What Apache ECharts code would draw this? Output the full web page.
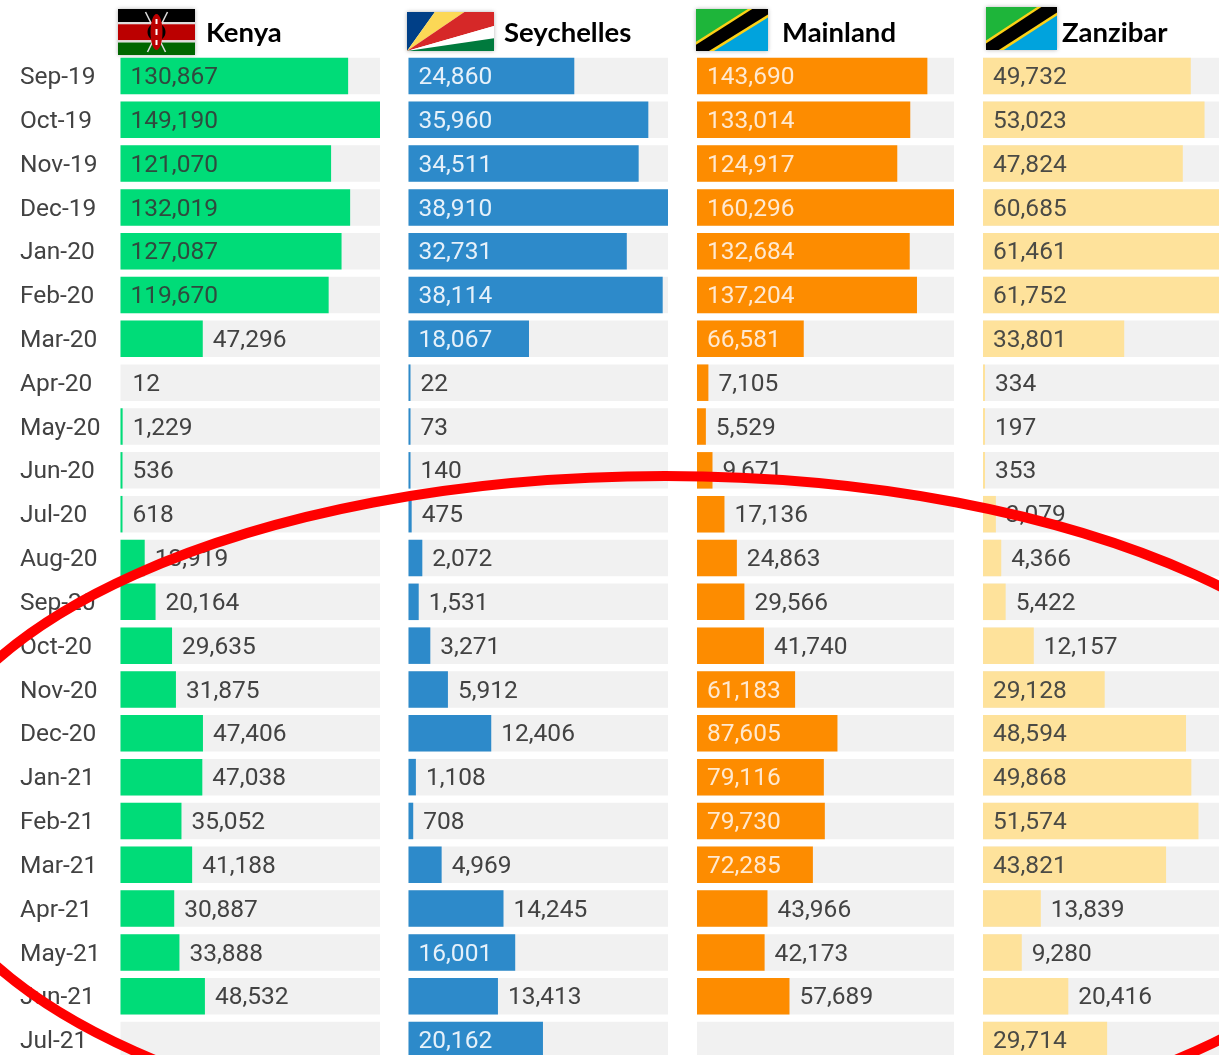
<!DOCTYPE html>
<html>
<head>
<meta charset="utf-8">
<title>Monthly arrivals</title>
<script src="https://cdn.jsdelivr.net/npm/echarts@6/dist/echarts.min.js"></script>
<style>
  html, body { margin: 0; padding: 0; background: #fff; overflow: hidden; width: 1219px; height: 1055px; }
  /* the chart runs past the window on the right and bottom, same crop as the reference */
  #bar_chart { width: 1260px; height: 1080px; }
</style>
</head>
<body>
<div id="bar_chart"></div>
<script>
const months = ['Sep-19','Oct-19','Nov-19','Dec-19','Jan-20','Feb-20','Mar-20','Apr-20','May-20','Jun-20','Jul-20','Aug-20',
  'Sep-20','Oct-20','Nov-20','Dec-20','Jan-21','Feb-21','Mar-21','Apr-21','May-21','Jun-21','Jul-21']

const kenya = [130867,149190,121070,132019,127087,119670,47296,12,1229,536,618,13919,20164,29635,31875,47406,47038,35052,41188,30887,33888,48532,null]
const seychelles = [24860,35960,34511,38910,32731,38114,18067,22,73,140,475,2072,1531,3271,5912,12406,1108,708,4969,14245,16001,13413,20162]
const mainland = [143690,133014,124917,160296,132684,137204,66581,7105,5529,9671,17136,24863,29566,41740,61183,87605,79116,79730,72285,43966,42173,57689,null]
const zanzibar = [49732,53023,47824,60685,61461,61752,33801,334,197,353,3079,4366,5422,12157,29128,48594,49868,51574,43821,13839,9280,20416,29714]

const panels = [
  { name: 'Kenya', values: kenya, left: 120.5, width: 259.5, color: '#00dc78', insideText: '#2f4a3e', titleLeft: 206 },
  { name: 'Seychelles', values: seychelles, left: 408.5, width: 259.5, color: '#2d8aca', insideText: '#e6f1fa', titleLeft: 504 },
  { name: 'Mainland', values: mainland, left: 697, width: 257, color: '#fd8c00', insideText: '#ffe9d0', titleLeft: 782 },
  { name: 'Zanzibar', values: zanzibar, left: 983, width: 258, color: '#fee29b', insideText: '#4a4a45', titleLeft: 1062 }
]

const gridTop = 54
const gridHeight = 1008
const labelFont = 'Roboto'
const textColor = '#424242'

// labels go inside the bar once it is long enough
const INSIDE_RATIO = 0.37
// anything thinner than this (px) is not drawn at all, e.g. Kenya Apr-20
const HIDE_BELOW_PX = 0.1

const buildItem = (v, max, p) => {
  const inside = v !== null && v / max > INSIDE_RATIO
  const tiny = v !== null && v / max * p.width < HIDE_BELOW_PX
  return {
    value: v,
    itemStyle: { color: tiny ? 'transparent' : p.color },
    label: {
      position: inside ? 'insideLeft' : 'right',
      distance: 10,
      color: inside ? p.insideText : textColor
    }
  }
}

const grids = panels.map(p => ({ left: p.left, top: gridTop, width: p.width, height: gridHeight }))

const xAxes = panels.map((p, i) => ({
  type: 'value',
  gridIndex: i,
  min: 0,
  max: Math.max(...p.values),
  show: false
}))

const yAxes = panels.map((p, i) => ({
  type: 'category',
  gridIndex: i,
  inverse: true,
  data: months,
  axisLine: { show: false },
  axisTick: { show: false },
  axisLabel: {
    show: i === 0,
    interval: 0,
    align: 'left',
    margin: 100.5,
    // thin line box hung from the tick, pushes the text 2px below the row centre
    verticalAlign: 'top',
    lineHeight: 4,
    fontFamily: labelFont,
    fontSize: 24.5,
    color: textColor
  }
}))

const seriesData = panels.map((p, i) => {
  const max = Math.max(...p.values)
  return {
    name: p.name,
    type: 'bar',
    xAxisIndex: i,
    yAxisIndex: i,
    barWidth: 36.5,
    barMinHeight: 2,
    silent: true,
    animation: false,
    showBackground: true,
    backgroundStyle: { color: '#f1f1f1' },
    label: {
      show: true,
      fontFamily: labelFont,
      fontSize: 24.5,
      offset: [0, 2],
      formatter: (item) => Number(item.value).toLocaleString('en-US')
    },
    data: p.values.map(v => buildItem(v, max, p))
  }
})

const titles = panels.map(p => ({
  text: p.name,
  left: p.titleLeft,
  top: 19,
  padding: 0,
  textStyle: { fontFamily: 'Lato', fontWeight: 'bold', fontSize: 27.5, color: '#000' }
}))

// flag helpers, fractions of the flag box
const poly = (box, pts, fill) => ({
  type: 'polygon',
  shape: { points: pts.map(q => [box.x + q[0] * box.w, box.y + q[1] * box.h]) },
  style: { fill }
})
const band = (box, a, b, fill) => poly(box, [[0, a], [1, a], [1, b], [0, b]], fill)
const shadowRect = (box) => ({
  type: 'rect',
  shape: { x: box.x, y: box.y, width: box.w, height: box.h },
  style: { fill: '#fff', shadowBlur: 4, shadowColor: 'rgba(0,0,0,0.3)' }
})

const kenyaFlag = (box) => {
  const cx = box.x + box.w / 2
  const cy = box.y + box.h / 2
  const spear = (x1, y1, x2, y2) => ({
    type: 'line',
    shape: { x1, y1, x2, y2 },
    style: { stroke: '#ddd', lineWidth: 1.5 }
  })
  const mark = (y, h) => ({
    type: 'rect',
    shape: { x: cx - 1, y, width: 2, height: h },
    style: { fill: '#fff' }
  })
  return [
    shadowRect(box),
    band(box, 0, 0.28, '#000'),
    band(box, 0.28, 0.33, '#ddd'),
    band(box, 0.33, 0.68, '#bb0000'),
    band(box, 0.68, 0.73, '#ddd'),
    band(box, 0.73, 1, '#006600'),
    spear(cx - 11, cy - 20, cx + 9, cy + 20),
    spear(cx + 11, cy - 20, cx - 9, cy + 20),
    { type: 'ellipse', shape: { cx, cy, rx: 9, ry: 9 }, style: { fill: '#000' } },
    { type: 'ellipse', shape: { cx, cy, rx: 6, ry: 18 }, style: { fill: '#bb0000' } },
    mark(cy - 13, 5), mark(cy - 3, 6), mark(cy + 8, 5)
  ]
}

const seychellesFlag = (box) => [
  shadowRect(box),
  poly(box, [[0, 1], [0, 0], [0.32, 0]], '#003f87'),
  poly(box, [[0, 1], [0.32, 0], [0.66, 0]], '#fcd856'),
  poly(box, [[0, 1], [0.66, 0], [1, 0], [1, 0.36]], '#d62828'),
  poly(box, [[0, 1], [1, 0.36], [1, 0.67]], '#ffffff'),
  poly(box, [[0, 1], [1, 0.67], [1, 1]], '#007a3d')
]

const tanzaniaFlag = (box) => [
  shadowRect(box),
  poly(box, [[0, 0], [1, 0], [1, 1], [0, 1]], '#00a3dd'),
  poly(box, [[0, 0], [0.78, 0], [0, 0.78]], '#1eb53a'),
  poly(box, [[0, 0.78], [0.72, 0], [1, 0], [1, 0.2], [0.25, 1], [0, 1]], '#fcd116'),
  poly(box, [[0, 0.85], [0.78, 0], [1, 0], [1, 0.13], [0.18, 1], [0, 1]], '#000')
]

const flags = [
  ...kenyaFlag({ x: 118, y: 9, w: 77, h: 46 }),
  ...seychellesFlag({ x: 407, y: 12, w: 87, h: 39 }),
  ...tanzaniaFlag({ x: 696, y: 9, w: 72, h: 42 }),
  ...tanzaniaFlag({ x: 986, y: 7, w: 71, h: 43 })
]

// hand-drawn red ring over the lower part of the chart
const ring = {
  type: 'ellipse',
  z: 100,
  shape: { cx: 665, cy: 813, rx: 750, ry: 337 },
  style: { fill: 'none', stroke: '#ff0000', lineWidth: 10 }
}

const myChart = echarts.init(document.getElementById('bar_chart'))
myChart.setOption({
  animation: false,
  backgroundColor: '#fff',
  title: titles,
  grid: grids,
  xAxis: xAxes,
  yAxis: yAxes,
  series: seriesData,
  graphic: { elements: [...flags, ring] }
})
</script>
</body>
</html>
